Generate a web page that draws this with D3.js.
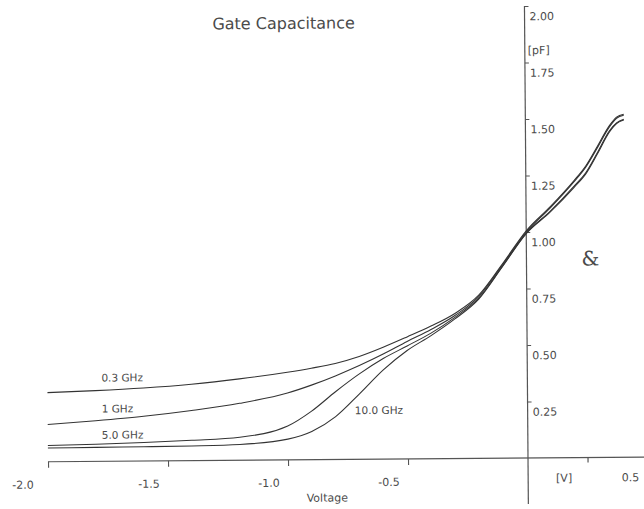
<!DOCTYPE html>
<html>
<head>
<meta charset="utf-8">
<script src="https://cdn.jsdelivr.net/npm/d3@7"></script>
<style>
  body { margin: 0; background: #fff; }
  svg text { font-family: "DejaVu Sans", sans-serif; fill: #4a4a4a; }
  .curve { fill: none; stroke: #333; stroke-width: 1.1; }
  .axis-line { stroke: #555; stroke-width: 1.2; }
</style>
</head>
<body>
<svg id="chart"></svg>
<script>
var width = 644, height = 509;

// gate voltage [V]
var volts = [-2.0, -1.8, -1.6, -1.4, -1.2, -1.0, -0.9, -0.8, -0.7, -0.6, -0.5, -0.4,
  -0.3, -0.2, -0.1, 0.0, 0.1, 0.2, 0.25, 0.3, 0.35, 0.38, 0.41];

// capacitance [pF] per frequency
var cap03 = [0.306, 0.313, 0.323, 0.338, 0.36, 0.388, 0.405, 0.425, 0.455, 0.495, 0.54, 0.587,
  0.642, 0.722, 0.86, 1.005, 1.11, 1.225, 1.29, 1.378, 1.468, 1.505, 1.518];
var cap1 = [0.165, 0.18, 0.198, 0.222, 0.252, 0.296, 0.33, 0.37, 0.415, 0.465, 0.52, 0.572,
  0.633, 0.716, 0.855, 1.0, 1.105, 1.22, 1.285, 1.372, 1.462, 1.5, 1.513];
var cap5 = [0.072, 0.076, 0.082, 0.09, 0.102, 0.15, 0.215, 0.3, 0.378, 0.445, 0.5, 0.556,
  0.625, 0.709, 0.85, 0.995, 1.09, 1.2, 1.26, 1.35, 1.445, 1.48, 1.495];
var cap10 = [0.061, 0.062, 0.063, 0.065, 0.07, 0.092, 0.125, 0.19, 0.29, 0.395, 0.48, 0.545,
  0.618, 0.705, 0.848, 0.993, 1.087, 1.195, 1.255, 1.345, 1.44, 1.477, 1.492];

var seriesNames = ["0.3 GHz", "1 GHz", "5.0 GHz", "10.0 GHz"];
// label anchor points in data units [V, pF]
var labelPos = [[-1.775, 0.353], [-1.775, 0.216], [-1.775, 0.10], [-0.72, 0.20]];

var xTicks = [-2.0, -1.5, -1.0, -0.5];
var xTickLabels = ["-2.0", "-1.5", "-1.0", "-0.5"];
var yTicks = [0.25, 0.5, 0.75, 1.0, 1.25, 1.5, 1.75, 2.0];

var svg = d3.select("#chart").attr("width", width).attr("height", height);

var x = d3.scaleLinear().domain([-2.2, 0.4833]).range([0, 644]);
var y = d3.scaleLinear().domain([0, 2]).range([458, 6]);

// scanned page is slightly rotated
var g = svg.append("g").attr("transform", "rotate(-0.45," + x(0) + "," + y(0) + ")");

// x axis
g.append("line").attr("class", "axis-line")
  .attr("x1", x(-2)).attr("x2", 650).attr("y1", y(0)).attr("y2", y(0));

var xAxis = g.append("g")
  .attr("transform", "translate(0," + y(0) + ")")
  .call(d3.axisBottom(x).tickValues(xTicks).tickSize(6).tickSizeOuter(0)
    .tickFormat(function(d, i) { return xTickLabels[i]; }));
xAxis.select(".domain").remove();
xAxis.selectAll(".tick line").attr("stroke", "#555").attr("stroke-width", 1.1);
xAxis.selectAll(".tick text")
  .attr("text-anchor", "end").attr("dx", function(d) { return d === -2 ? "-15" : "-9"; })
  .attr("y", 19)
  .style("font-size", "11px");

// extra small tick and unit
g.append("line").attr("class", "axis-line")
  .attr("x1", x(0.25)).attr("x2", x(0.25)).attr("y1", y(0)).attr("y2", y(0) + 5);
g.append("text").attr("x", x(0.25) - 16).attr("y", y(0) + 24)
  .attr("text-anchor", "end").style("font-size", "11px").text("[V]");
g.append("text").attr("x", x(0.5) - 9).attr("y", y(0) + 24)
  .attr("text-anchor", "end").style("font-size", "11px").text("0.5");

g.append("text").attr("x", 327).attr("y", 500)
  .attr("text-anchor", "middle").style("font-size", "11px").text("Voltage");

// y axis
g.append("line").attr("class", "axis-line")
  .attr("x1", x(0)).attr("x2", x(0)).attr("y1", y(2)).attr("y2", 504);

var yAxis = g.append("g")
  .attr("transform", "translate(" + x(0) + ",0)")
  .call(d3.axisRight(y).tickValues(yTicks).tickSize(4).tickSizeOuter(0)
    .tickFormat(d3.format(".2f")));
yAxis.select(".domain").remove();
yAxis.selectAll(".tick line").attr("stroke", "#555").attr("stroke-width", 1.1);
yAxis.selectAll(".tick text")
  .attr("x", 5).attr("dy", "1.25em")
  .style("font-size", "11px");

g.append("text").attr("x", 531).attr("y", 54).style("font-size", "11px").text("[pF]");

// title
g.append("text").attr("x", 287).attr("y", 27)
  .attr("text-anchor", "middle").style("font-size", "16px").text("Gate Capacitance");

// curves
var line = d3.line()
  .x(function(d) { return x(d[0]); })
  .y(function(d) { return y(d[1]); })
  .curve(d3.curveMonotoneX);

[cap03, cap1, cap5, cap10].forEach(function(vals) {
  g.append("path").attr("class", "curve")
    .attr("d", line(volts.map(function(v, i) { return [v, vals[i]]; })));
});

g.selectAll(".series-label")
  .data(seriesNames)
  .join("text")
  .attr("class", "series-label")
  .attr("x", function(d, i) { return x(labelPos[i][0]); })
  .attr("y", function(d, i) { return y(labelPos[i][1]); })
  .style("font-size", "10.5px")
  .text(function(d) { return d; });

// handwritten mark on the right
g.append("text").attr("x", 592).attr("y", 266)
  .attr("text-anchor", "middle")
  .style("font-size", "20px").style("font-family", "DejaVu Serif, serif")
  .text("&");
</script>
</body>
</html>
